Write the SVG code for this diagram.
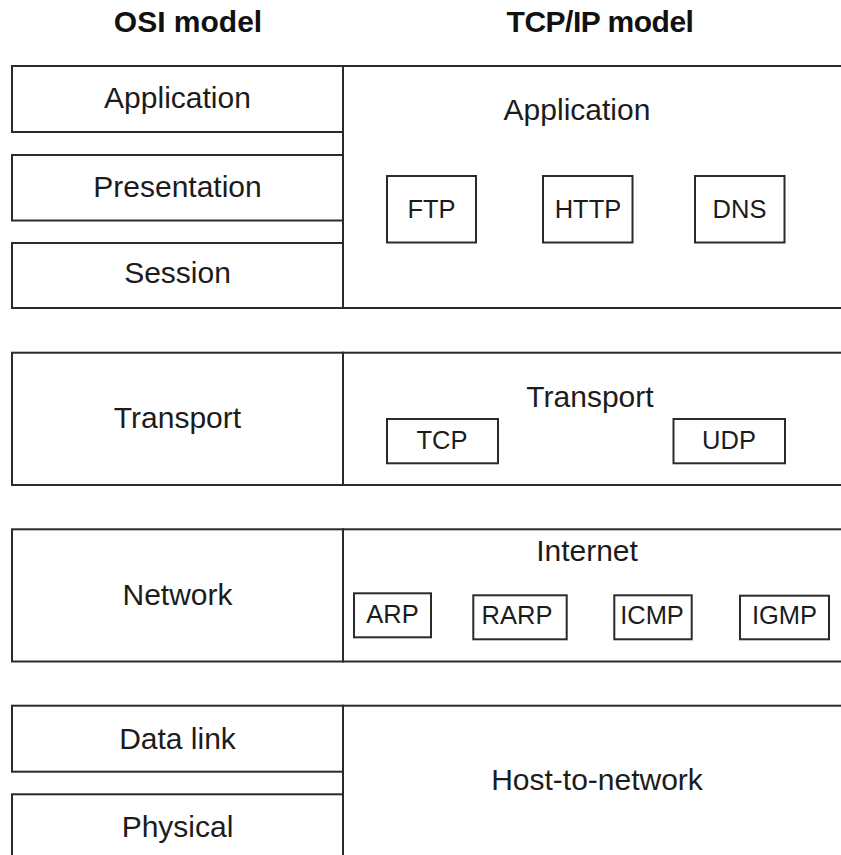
<svg xmlns="http://www.w3.org/2000/svg" width="841" height="855" viewBox="0 0 841 855">
  <style>
    .box { fill: #ffffff; stroke: #2b2b2b; stroke-width: 2; }
    .lbl { font-family: "Liberation Sans", Arial, sans-serif; font-size: 30px; fill: #1c1c1c; text-anchor: middle; }
    .sm { font-family: "Liberation Sans", Arial, sans-serif; font-size: 25.5px; fill: #1c1c1c; text-anchor: middle; }
    .hd { font-family: "Liberation Sans", Arial, sans-serif; font-size: 30px; font-weight: bold; fill: #111111; text-anchor: middle; }
  </style>
  <rect width="841" height="855" fill="#ffffff"/>

  <!-- column headings -->
  <text class="hd" x="188" y="32">OSI model</text>
  <text class="hd" x="600" y="32" letter-spacing="-0.5">TCP/IP model</text>

  <!-- application block -->
  <g id="tcpip-application">
    <rect class="box" x="343" y="66" width="510" height="242"/>
    <text class="lbl" x="577" y="120">Application</text>
  </g>
  <g id="osi-application">
    <rect class="box" x="12" y="66" width="331" height="66"/>
    <text class="lbl" x="177.5" y="108">Application</text>
  </g>
  <g id="osi-presentation">
    <rect class="box" x="12" y="155" width="331" height="65.5"/>
    <text class="lbl" x="177.5" y="197">Presentation</text>
  </g>
  <g id="osi-session">
    <rect class="box" x="12" y="243" width="331" height="65"/>
    <text class="lbl" x="177.5" y="283">Session</text>
  </g>
  <g id="proto-ftp">
    <rect class="box" x="387" y="176" width="89" height="66.5"/>
    <text class="sm" x="431.5" y="217.5">FTP</text>
  </g>
  <g id="proto-http">
    <rect class="box" x="543" y="176" width="89.5" height="66.5"/>
    <text class="sm" x="588" y="217.5">HTTP</text>
  </g>
  <g id="proto-dns">
    <rect class="box" x="695" y="176" width="89.5" height="66.5"/>
    <text class="sm" x="739.5" y="217.5">DNS</text>
  </g>

  <!-- transport block -->
  <g id="tcpip-transport">
    <rect class="box" x="343" y="352.7" width="510" height="132.3"/>
    <text class="lbl" x="590" y="407">Transport</text>
  </g>
  <g id="osi-transport">
    <rect class="box" x="12" y="352.7" width="331" height="132.3"/>
    <text class="lbl" x="177.5" y="428">Transport</text>
  </g>
  <g id="proto-tcp">
    <rect class="box" x="387" y="419" width="111" height="44.3"/>
    <text class="sm" x="442" y="448.5">TCP</text>
  </g>
  <g id="proto-udp">
    <rect class="box" x="673.5" y="419" width="111.5" height="44.3"/>
    <text class="sm" x="729" y="448.5">UDP</text>
  </g>

  <!-- network block -->
  <g id="tcpip-internet">
    <rect class="box" x="343" y="529.3" width="510" height="132.2"/>
    <text class="lbl" x="587" y="561">Internet</text>
  </g>
  <g id="osi-network">
    <rect class="box" x="12" y="529.3" width="331" height="132.2"/>
    <text class="lbl" x="177.5" y="605">Network</text>
  </g>
  <g id="proto-arp">
    <rect class="box" x="354" y="593.3" width="77" height="44"/>
    <text class="sm" x="392.5" y="623">ARP</text>
  </g>
  <g id="proto-rarp">
    <rect class="box" x="473.3" y="595.3" width="93.4" height="44"/>
    <text class="sm" x="517" y="624">RARP</text>
  </g>
  <g id="proto-icmp">
    <rect class="box" x="614.3" y="595.3" width="77.4" height="44"/>
    <text class="sm" x="652" y="624">ICMP</text>
  </g>
  <g id="proto-igmp">
    <rect class="box" x="740" y="595.7" width="89" height="43.6"/>
    <text class="sm" x="784.5" y="624">IGMP</text>
  </g>

  <!-- link block -->
  <g id="tcpip-host-to-network">
    <rect class="box" x="343" y="705.7" width="510" height="170"/>
    <text class="lbl" x="597" y="790">Host-to-network</text>
  </g>
  <g id="osi-data-link">
    <rect class="box" x="12" y="705.7" width="331" height="66"/>
    <text class="lbl" x="177.5" y="748.5">Data link</text>
  </g>
  <g id="osi-physical">
    <rect class="box" x="12" y="794.3" width="331" height="80"/>
    <text class="lbl" x="177.5" y="837">Physical</text>
  </g>
</svg>
